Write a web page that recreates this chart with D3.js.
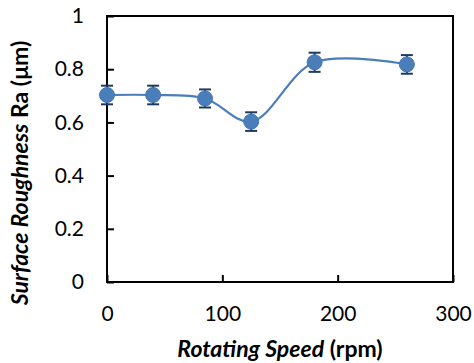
<!DOCTYPE html>
<html>
<head>
<meta charset="utf-8">
<script src="https://cdn.jsdelivr.net/npm/d3@7"></script>
<style>
  body { margin: 0; background: #fff; }
  text { font-family: Lato, "Open Sans", sans-serif; fill: #000; }
</style>
</head>
<body>
<svg id="svg" width="474" height="363"></svg>
<script>
// data
var speed = [0, 40, 85, 125, 180, 260];
var roughness = [0.703, 0.703, 0.69, 0.603, 0.826, 0.818];
var errBar = [0.035, 0.035, 0.034, 0.035, 0.036, 0.035];
var xTicks = [0, 100, 200, 300];
var yTicks = [0, 0.2, 0.4, 0.6, 0.8, 1];

var svg = d3.select("svg"),
	margin = { left: 107, right: 21, top: 16, bottom: 81 },
	width = +svg.attr("width") - margin.left - margin.right,
	height = +svg.attr("height") - margin.top - margin.bottom;

var x = d3.scaleLinear().domain([0, 300]).range([0, width]);
var y = d3.scaleLinear().domain([0, 1]).range([height, 0]);

var g = svg.append("g")
	.attr("transform", "translate(" + margin.left + "," + margin.top + ")");

// plot frame
g.append("rect")
	.attr("width", width)
	.attr("height", height)
	.style("fill", "none")
	.style("stroke", "#000")
	.style("stroke-width", 2);

var xAxis = g.append("g")
	.attr("transform", "translate(0," + height + ")")
	.call(d3.axisBottom(x).tickValues(xTicks).tickSizeInner(-7).tickSizeOuter(0).tickPadding(24));

var yAxis = g.append("g")
	.call(d3.axisLeft(y).tickValues(yTicks).tickSizeInner(-7).tickSizeOuter(0).tickPadding(23)
		.tickFormat(function (d) { return d3.format("")(d); }));

[xAxis, yAxis].forEach(function (a) {
	a.select(".domain").remove();
	a.selectAll("line").style("stroke", "#000").style("stroke-width", 2);
	a.selectAll("text").style("font-size", "21px").style("fill", "#000");
});

var pts = speed.map(function (s, i) { return { x: s, y: roughness[i], e: errBar[i] }; });

// smoothed line
var line = d3.line()
	.curve(d3.curveCatmullRom.alpha(0.5))
	.x(function (d) { return x(d.x); })
	.y(function (d) { return y(d.y); });

g.append("path")
	.datum(pts)
	.attr("d", line)
	.style("fill", "none")
	.style("stroke", "#4a7ebb")
	.style("stroke-width", 2.2);

// error bars
var eb = g.append("g")
	.style("stroke", "#1f3a60")
	.style("stroke-width", 2);

eb.selectAll(".v").data(pts).enter().append("line")
	.attr("x1", function (d) { return x(d.x); })
	.attr("x2", function (d) { return x(d.x); })
	.attr("y1", function (d) { return y(d.y - d.e); })
	.attr("y2", function (d) { return y(d.y + d.e); });

eb.selectAll(".top").data(pts).enter().append("line")
	.attr("x1", function (d) { return x(d.x) - 6; })
	.attr("x2", function (d) { return x(d.x) + 6; })
	.attr("y1", function (d) { return y(d.y + d.e); })
	.attr("y2", function (d) { return y(d.y + d.e); });

eb.selectAll(".bot").data(pts).enter().append("line")
	.attr("x1", function (d) { return x(d.x) - 6; })
	.attr("x2", function (d) { return x(d.x) + 6; })
	.attr("y1", function (d) { return y(d.y - d.e); })
	.attr("y2", function (d) { return y(d.y - d.e); });

// markers
g.selectAll("circle").data(pts).enter().append("circle")
	.attr("cx", function (d) { return x(d.x); })
	.attr("cy", function (d) { return y(d.y); })
	.attr("r", 7.5)
	.style("fill", "#4a7ebb")
	.style("stroke", "#4677b2")
	.style("stroke-width", 1);

// axis titles
var xt = svg.append("text")
	.attr("x", margin.left + width / 2)
	.attr("y", 357)
	.attr("text-anchor", "middle")
	.style("font-size", "23px")
	.style("font-weight", "bold");
xt.append("tspan").style("font-style", "italic").text("Rotating Speed");
xt.append("tspan").text(" (rpm)");

var yt = svg.append("text")
	.attr("transform", "translate(28,173) rotate(-90)")
	.attr("text-anchor", "middle")
	.style("font-size", "23px")
	.style("font-weight", "bold");
yt.append("tspan").style("font-style", "italic").text("Surface Roughness");
yt.append("tspan").text(" Ra (μm)");
</script>
</body>
</html>
